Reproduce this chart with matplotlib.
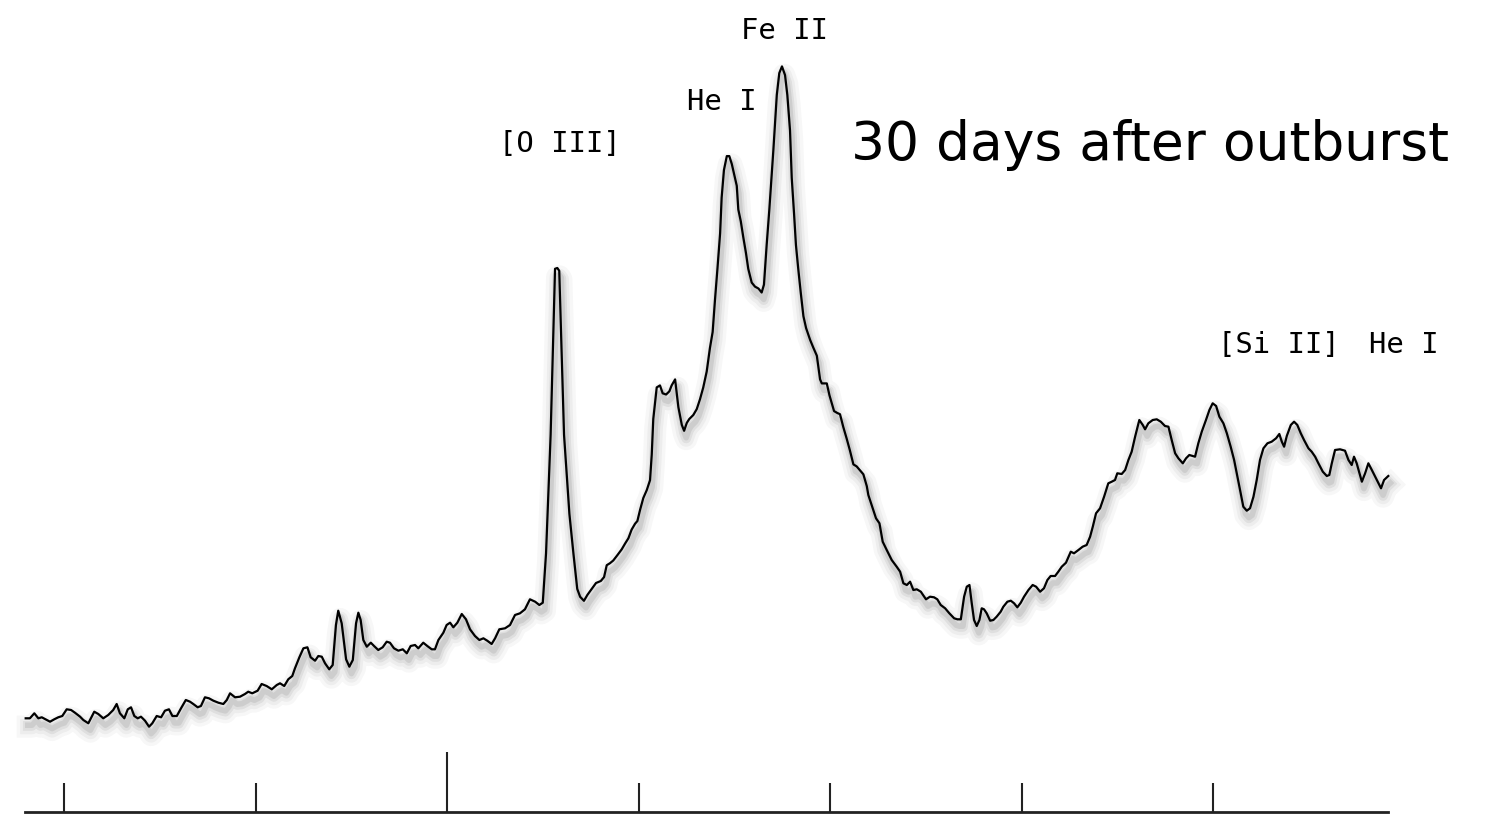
import matplotlib
matplotlib.use("Agg")
import matplotlib.pyplot as plt
import matplotlib.patheffects as pe

# wavelength in tick units (ticks at 0..6), flux relative to axis line
wave = [-0.200, -0.178, -0.155, -0.134, -0.116, -0.096, -0.073, -0.051, -0.030, -0.009,
        0.014, 0.037, 0.057, 0.084, 0.101, 0.127, 0.158, 0.179, 0.205, 0.231,
        0.257, 0.275, 0.292, 0.315, 0.333, 0.350, 0.367, 0.385, 0.402, 0.423,
        0.444, 0.461, 0.484, 0.507, 0.527, 0.548, 0.566, 0.589, 0.611, 0.636,
        0.658, 0.675, 0.698, 0.715, 0.736, 0.757, 0.780, 0.806, 0.832, 0.850,
        0.867, 0.893, 0.919, 0.945, 0.962, 0.983, 1.011, 1.032, 1.058, 1.085,
        1.111, 1.128, 1.150, 1.171, 1.192,
        1.206, 1.229, 1.250, 1.271, 1.288, 1.311, 1.328, 1.346, 1.363, 1.385,
        1.403, 1.420, 1.432, 1.450, 1.473, 1.490, 1.508, 1.525, 1.537, 1.549,
        1.563, 1.581, 1.602, 1.619, 1.641, 1.664, 1.685, 1.702, 1.723, 1.746,
        1.769, 1.790, 1.810, 1.833, 1.850, 1.876, 1.897, 1.920, 1.937, 1.955,
        1.981, 1.998, 2.016, 2.033, 2.054, 2.077, 2.099, 2.120, 2.146, 2.169,
        2.190, 2.210, 2.233, 2.251, 2.273, 2.303, 2.329, 2.355, 2.381, 2.407,
        2.433, 2.460, 2.482, 2.500,
        2.517, 2.529, 2.541, 2.555, 2.564, 2.576, 2.586, 2.599, 2.611, 2.625,
        2.639, 2.660, 2.680, 2.695, 2.715, 2.733, 2.756, 2.778, 2.803, 2.820,
        2.834, 2.851, 2.868, 2.889, 2.912, 2.930, 2.947, 2.964, 2.982, 2.994,
        3.008, 3.025, 3.043, 3.060, 3.069, 3.077, 3.095, 3.112, 3.126, 3.144,
        3.161, 3.173, 3.191, 3.208, 3.226, 3.238, 3.252, 3.265, 3.286, 3.304,
        3.321, 3.338, 3.356, 3.373, 3.387, 3.399, 3.412, 3.426, 3.434, 3.446,
        3.461, 3.474, 3.487, 3.499, 3.513, 3.521, 3.534, 3.547, 3.561, 3.573,
        3.591, 3.608, 3.626, 3.643, 3.655, 3.669, 3.683, 3.704, 3.722, 3.735,
        3.749, 3.765, 3.777, 3.791, 3.800, 3.812, 3.822, 3.834, 3.847, 3.861,
        3.875, 3.896, 3.913, 3.931, 3.948, 3.957, 3.983, 3.997, 4.009, 4.021,
        4.038, 4.052, 4.069, 4.087, 4.104, 4.122, 4.139, 4.157, 4.174, 4.192,
        4.200, 4.223, 4.240, 4.258, 4.275, 4.296, 4.322, 4.348, 4.366, 4.383,
        4.401, 4.418, 4.435, 4.453, 4.474, 4.501, 4.522, 4.543, 4.560, 4.578,
        4.601, 4.623, 4.648, 4.665, 4.683, 4.700, 4.714, 4.728, 4.740, 4.752,
        4.766, 4.780, 4.792, 4.804, 4.818, 4.836, 4.853, 4.870, 4.891, 4.905,
        4.926, 4.944, 4.961, 4.978, 4.996, 5.013, 5.036, 5.058, 5.076, 5.097,
        5.117, 5.135, 5.152, 5.175, 5.192, 5.210, 5.232, 5.257, 5.274, 5.297,
        5.319, 5.340, 5.358, 5.372,
        5.389, 5.410, 5.431, 5.453, 5.471, 5.488, 5.500, 5.523, 5.541, 5.558,
        5.575, 5.593, 5.615, 5.633, 5.645, 5.662, 5.685, 5.706, 5.727, 5.749,
        5.767, 5.784, 5.802, 5.819, 5.842, 5.859, 5.876, 5.906, 5.923, 5.941,
        5.963, 5.981, 5.998, 6.016, 6.033, 6.054, 6.072, 6.092, 6.110, 6.124,
        6.141, 6.158, 6.176, 6.193, 6.211, 6.228, 6.245, 6.263, 6.284, 6.306,
        6.329, 6.346, 6.359, 6.371, 6.385, 6.406, 6.423, 6.440, 6.458, 6.475,
        6.498, 6.515, 6.533, 6.550, 6.573, 6.594, 6.607, 6.620, 6.637, 6.663,
        6.689, 6.707, 6.724, 6.736, 6.750, 6.777, 6.794, 6.811, 6.829, 6.855,
        6.877, 6.893, 6.915]

flux = [0.937, 0.937, 0.987, 0.937, 0.947, 0.927, 0.903, 0.927, 0.947, 0.960,
        1.027, 1.020, 0.993, 0.953, 0.920, 0.887, 1.003, 0.980, 0.937, 0.970,
        1.020, 1.080, 0.987, 0.937, 1.027, 1.047, 0.960, 0.937, 0.953, 0.913,
        0.853, 0.887, 0.960, 0.947, 1.013, 1.027, 0.960, 0.960, 1.037, 1.120,
        1.103, 1.080, 1.047, 1.060, 1.147, 1.137, 1.113, 1.093, 1.080, 1.120,
        1.187, 1.147, 1.153, 1.180, 1.203, 1.187, 1.213, 1.280, 1.260, 1.227,
        1.270, 1.287, 1.260, 1.327, 1.360,
        1.437, 1.547, 1.637, 1.647, 1.547, 1.513, 1.560, 1.553, 1.487, 1.427,
        1.470, 1.870, 2.013, 1.887, 1.527, 1.453, 1.520, 1.887, 1.993, 1.920,
        1.720, 1.653, 1.693, 1.660, 1.620, 1.647, 1.703, 1.693, 1.637, 1.613,
        1.627, 1.587, 1.660, 1.670, 1.637, 1.693, 1.660, 1.627, 1.627, 1.720,
        1.793, 1.870, 1.893, 1.847, 1.893, 1.980, 1.927, 1.827, 1.760, 1.720,
        1.737, 1.713, 1.680, 1.737, 1.827, 1.837, 1.870, 1.970, 1.987, 2.027,
        2.127, 2.103, 2.070, 2.093,
        2.586, 3.179, 3.772, 4.760, 5.432, 5.440, 5.412, 4.563, 3.772, 3.377,
        2.982, 2.586, 2.231, 2.152, 2.112, 2.171, 2.231, 2.290, 2.310, 2.349,
        2.468, 2.488, 2.515, 2.567, 2.626, 2.685, 2.737, 2.824, 2.883, 2.910,
        3.021, 3.140, 3.219, 3.318, 3.575, 3.930, 4.246, 4.266, 4.187, 4.175,
        4.207, 4.266, 4.326, 4.049, 3.871, 3.812, 3.891, 3.930, 3.970, 4.029,
        4.128, 4.246, 4.405, 4.642, 4.800, 5.116, 5.432, 5.788, 6.144, 6.420,
        6.559, 6.559, 6.480, 6.381, 6.262, 6.025, 5.907, 5.748, 5.590, 5.432,
        5.294, 5.254, 5.235, 5.195, 5.274, 5.669, 6.025, 6.618, 7.171, 7.389,
        7.456, 7.369, 7.171, 6.816, 6.341, 5.986, 5.669, 5.432, 5.195, 4.958,
        4.839, 4.721, 4.642, 4.563, 4.326, 4.286, 4.286, 4.167, 4.088, 4.009,
        3.990, 3.978, 3.851, 3.733, 3.614, 3.476, 3.456, 3.416, 3.377, 3.258,
        3.170, 3.037, 2.937, 2.887, 2.703, 2.620, 2.520, 2.453, 2.403, 2.287,
        2.270, 2.303, 2.220, 2.227, 2.203, 2.127, 2.153, 2.147, 2.127, 2.070,
        2.037, 1.987, 1.937, 1.927, 1.927, 2.153, 2.253, 2.270, 2.087, 1.920,
        1.860, 1.920, 2.037, 2.027, 1.987, 1.913, 1.920, 1.953, 2.003, 2.053,
        2.103, 2.113, 2.087, 2.047, 2.093, 2.153, 2.220, 2.270, 2.253, 2.203,
        2.237, 2.320, 2.360, 2.360, 2.403, 2.453, 2.493, 2.603, 2.587, 2.620,
        2.653, 2.670, 2.753, 2.853,
        2.987, 3.037, 3.153, 3.287, 3.303, 3.320, 3.387, 3.380, 3.420, 3.520,
        3.603, 3.753, 3.920, 3.870, 3.827, 3.887, 3.920, 3.927, 3.903, 3.860,
        3.853, 3.720, 3.587, 3.537, 3.487, 3.537, 3.570, 3.553, 3.687, 3.803,
        3.920, 4.020, 4.087, 4.060, 3.953, 3.887, 3.787, 3.653, 3.520, 3.387,
        3.220, 3.053, 3.013, 3.037, 3.153, 3.320, 3.520, 3.637, 3.687, 3.703,
        3.737, 3.780, 3.703, 3.653, 3.760, 3.870, 3.903, 3.870, 3.787, 3.720,
        3.637, 3.603, 3.553, 3.487, 3.403, 3.360, 3.370, 3.487, 3.620, 3.627,
        3.613, 3.520, 3.470, 3.553, 3.487, 3.303, 3.387, 3.487, 3.420, 3.320,
        3.237, 3.320, 3.360]

minor_ticks = [0, 1, 3, 4, 5, 6]
major_ticks = [2]
axis_range = (-0.204, 6.914)

line_labels = ["[O III]", "He I", "Fe II", "[Si II]", "He I"]
label_x = [2.590, 3.433, 3.760, 6.345, 6.997]
label_y = [6.60, 7.02, 7.725, 4.593, 4.593]
title = "30 days after outburst"

plt.rcParams['font.family'] = ['DejaVu Sans']

fig = plt.figure(figsize=(14.85, 8.16), dpi=100)
ax = fig.add_axes([0, 0, 1, 1])
ax.set_xlim(-0.3342, 7.420)
ax.set_ylim(-0.04, 8.12)

# soft drop shadow under the spectrum
shadow = [pe.SimpleLineShadow(offset=(1.5, -6), shadow_color='black', alpha=0.03, linewidth=16),
          pe.SimpleLineShadow(offset=(1.5, -6), shadow_color='black', alpha=0.04, linewidth=11),
          pe.SimpleLineShadow(offset=(1.5, -5.5), shadow_color='black', alpha=0.06, linewidth=7),
          pe.SimpleLineShadow(offset=(1.5, -5), shadow_color='black', alpha=0.08, linewidth=4),
          pe.Normal()]
ax.plot(wave, flux, color='black', lw=1.6, path_effects=shadow)

for s in ['top', 'left', 'right']:
    ax.spines[s].set_visible(False)
ax.spines['bottom'].set_position(('data', 0))
ax.spines['bottom'].set_bounds(*axis_range)
ax.spines['bottom'].set_linewidth(2.0)
ax.spines['bottom'].set_color('#222222')
ax.set_xticks(major_ticks)
ax.set_xticks(minor_ticks, minor=True)
ax.tick_params(axis='x', which='major', direction='in', length=43, width=1.5,
               color='#222222', labelbottom=False)
ax.tick_params(axis='x', which='minor', direction='in', length=21, width=1.5,
               color='#222222', labelbottom=False)
ax.set_yticks([])

for lab, lx, ly in zip(line_labels, label_x, label_y):
    ax.text(lx, ly, lab, ha='center', va='baseline', fontsize=20.8,
            family='DejaVu Sans Mono')
ax.text(5.671, 6.52, title, ha='center', va='baseline', fontsize=38.5)

fig.savefig("out.png", dpi=100, facecolor='white')
